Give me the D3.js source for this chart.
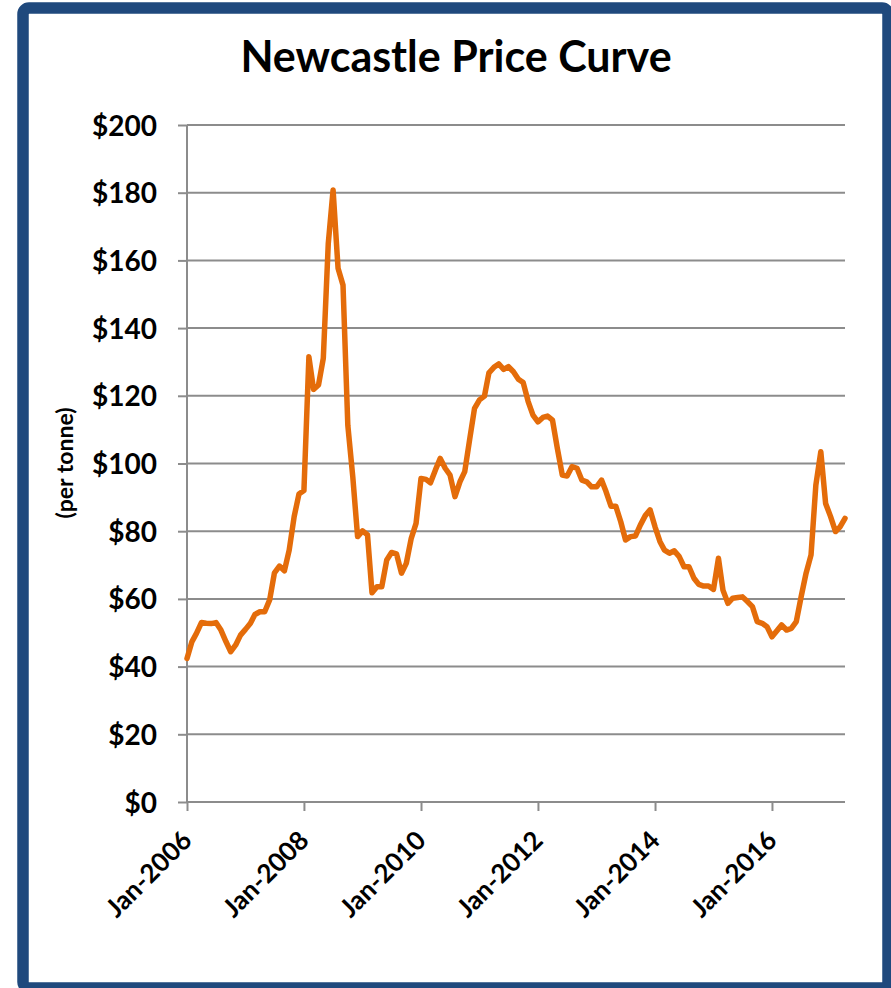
<!DOCTYPE html>
<html>
<head>
<meta charset="utf-8">
<script src="https://cdn.jsdelivr.net/npm/d3@7/dist/d3.min.js"></script>
<style>
  html, body { margin: 0; padding: 0; background: #fff; }
  svg { display: block; }
  text { font-family: Lato, "Open Sans", sans-serif; font-weight: 700; fill: #000; }
</style>
</head>
<body>
<svg id="chart" width="891" height="988"></svg>
<script>
// ---- data (monthly, Jan-2006 .. Apr-2017) ----
const title = "Newcastle Price Curve";
const yAxisTitle = "(per tonne)";
const startMonth = "2006-01";
const prices2006 = [42.4, 47.4, 49.8, 53.0, 52.8, 52.7, 53.0, 50.8, 47.4, 44.4, 46.4, 49.3];
const prices2007 = [51.0, 52.8, 55.4, 56.2, 56.2, 59.7, 67.7, 69.7, 68.3, 74.4, 84.3, 91.0];
const prices2008 = [92.0, 131.5, 121.9, 123.2, 131.1, 165.0, 180.8, 157.7, 152.7, 111.3, 96.1, 78.4];
const prices2009 = [80.1, 78.9, 61.8, 63.6, 63.6, 71.5, 73.7, 73.3, 67.6, 70.5, 77.9, 82.3];
const prices2010 = [95.6, 95.3, 94.3, 98.1, 101.5, 98.6, 96.6, 90.2, 94.6, 97.6, 107.2, 116.3];
const prices2011 = [118.8, 119.9, 126.8, 128.4, 129.4, 127.8, 128.6, 127.1, 124.9, 123.9, 118.3, 114.3];
const prices2012 = [112.3, 113.6, 114.0, 112.8, 104.5, 96.6, 96.3, 99.1, 98.6, 95.1, 94.6, 93.1];
const prices2013 = [93.1, 95.1, 91.7, 87.4, 87.4, 82.8, 77.4, 78.4, 78.6, 81.8, 84.6, 86.3];
const prices2014 = [81.3, 76.9, 74.4, 73.5, 74.2, 72.5, 69.5, 69.5, 66.1, 64.3, 63.8, 63.8];
const prices2015 = [62.8, 72.0, 62.6, 58.7, 60.2, 60.4, 60.6, 59.2, 57.7, 53.3, 52.8, 51.8];
const prices2016 = [48.8, 50.6, 52.3, 50.8, 51.3, 53.3, 60.6, 67.6, 73.0, 93.6, 103.5, 88.2];
const prices2017 = [84.3, 79.9, 81.3, 83.8];
const yTicks = [0, 20, 40, 60, 80, 100, 120, 140, 160, 180, 200];
const xTickLabels = ["Jan-2006", "Jan-2008", "Jan-2010", "Jan-2012", "Jan-2014", "Jan-2016"];

const prices = [].concat(prices2006, prices2007, prices2008, prices2009, prices2010, prices2011,
                         prices2012, prices2013, prices2014, prices2015, prices2016, prices2017);
const parseMonth = d3.timeParse("%Y-%m");
const start = parseMonth(startMonth);
const data = prices.map((v, i) => ({ date: d3.timeMonth.offset(start, i), value: v }));
const parseLabel = d3.timeParse("%b-%Y");
const xTickDates = xTickLabels.map(parseLabel);

// ---- layout ----
const svg = d3.select("#chart");
const plot = { left: 187, right: 845, top: 125, bottom: 802 };

// border
svg.append("rect")
  .attr("x", 23).attr("y", 8)
  .attr("width", 865).attr("height", 980)
  .attr("rx", 6).attr("ry", 6)
  .attr("fill", "#fff")
  .attr("stroke", "#1F497D")
  .attr("stroke-width", 11.5);

const x = d3.scaleTime()
  .domain([start, data[data.length - 1].date])
  .range([plot.left, plot.right]);
const y = d3.scaleLinear()
  .domain([0, 200])
  .range([plot.bottom, plot.top]);

const gridColor = "#8C8C8C";

// y axis with gridlines
const yAxis = svg.append("g")
  .attr("transform", `translate(${plot.left},0)`)
  .call(d3.axisLeft(y).tickValues(yTicks).tickSize(9).tickFormat(d => "$" + d));
yAxis.select(".domain").remove();
yAxis.selectAll(".tick line").attr("stroke", gridColor).attr("stroke-width", 2);
yAxis.selectAll(".tick text")
  .attr("x", -30)
  .attr("dy", "0.36em")
  .style("font-size", "28px");

// gridlines
svg.append("g")
  .selectAll("line")
  .data(yTicks.filter(d => d > 0))
  .join("line")
  .attr("x1", plot.left).attr("x2", plot.right)
  .attr("y1", d => y(d)).attr("y2", d => y(d))
  .attr("stroke", gridColor).attr("stroke-width", 2);

// y axis line
svg.append("line")
  .attr("x1", plot.left).attr("x2", plot.left)
  .attr("y1", plot.top).attr("y2", plot.bottom)
  .attr("stroke", gridColor).attr("stroke-width", 2);

// x axis
const xAxis = svg.append("g")
  .attr("transform", `translate(0,${plot.bottom})`)
  .call(d3.axisBottom(x).tickValues(xTickDates).tickSize(9).tickFormat((d, i) => xTickLabels[i]));
xAxis.select(".domain").remove();
xAxis.selectAll(".tick line").attr("stroke", gridColor).attr("stroke-width", 2);
xAxis.selectAll(".tick text")
  .attr("text-anchor", "end")
  .attr("dy", null)
  .attr("y", 0)
  .attr("transform", "translate(6,40) rotate(-45)")
  .style("font-size", "26px");

svg.append("line")
  .attr("x1", plot.left).attr("x2", plot.right)
  .attr("y1", plot.bottom).attr("y2", plot.bottom)
  .attr("stroke", gridColor).attr("stroke-width", 2);

// series line
svg.append("path")
  .datum(data)
  .attr("fill", "none")
  .attr("stroke", "#E46C0A")
  .attr("stroke-width", 5.5)
  .attr("stroke-linejoin", "round")
  .attr("stroke-linecap", "round")
  .attr("d", d3.line().x(d => x(d.date)).y(d => y(d.value)));

// title
svg.append("text")
  .attr("x", 456).attr("y", 72)
  .attr("text-anchor", "middle")
  .style("font-size", "43px")
  .text(title);

// y axis title
svg.append("text")
  .attr("transform", "translate(73,463) rotate(-90)")
  .attr("text-anchor", "middle")
  .style("font-size", "23px")
  .text(yAxisTitle);
</script>
</body>
</html>
